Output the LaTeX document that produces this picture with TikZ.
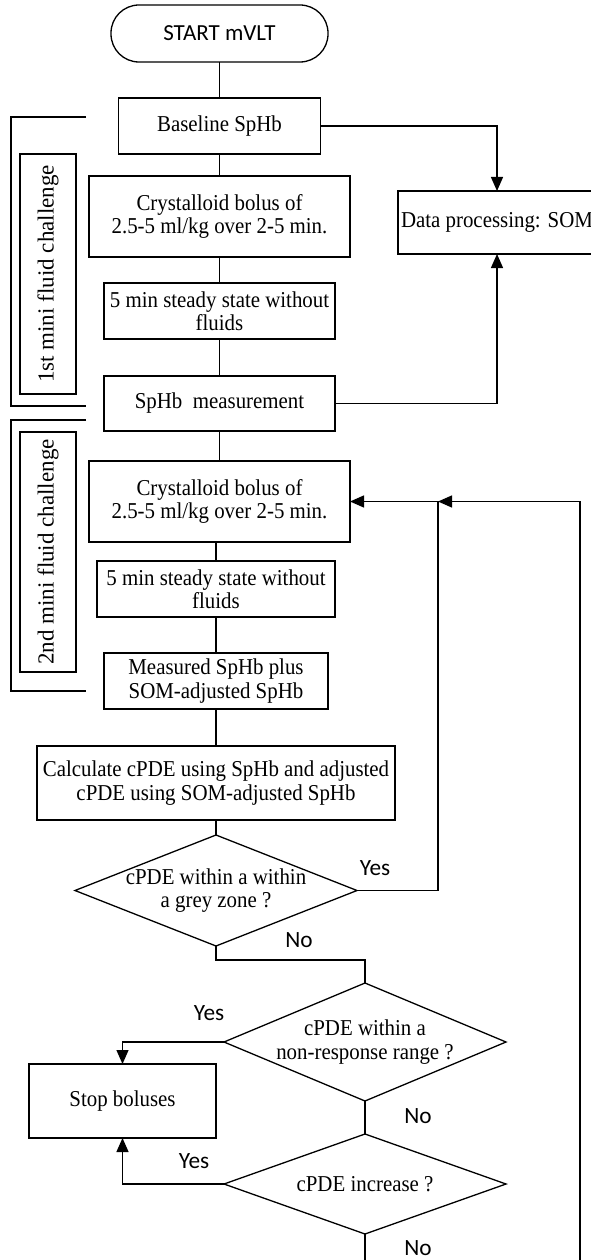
\documentclass[tikz,border=0pt]{standalone}
\usepackage{fontspec}
\setmainfont{Liberation Serif}[FakeStretch=0.92]
\newfontfamily\rotfont{Liberation Serif}
\newfontfamily\calibfont{Carlito}
\usetikzlibrary{arrows.meta,positioning,shapes.geometric}

\begin{document}
\begin{tikzpicture}[
      x=1pt, y=-1pt,
      line width=1.3pt,
      box/.style={draw, minimum height=56pt, inner sep=3pt, outer sep=0pt, align=center,
                  font=\fontsize{22.7pt}{23.5pt}\selectfont},
      decision/.style={draw, diamond, inner sep=-4pt, outer sep=0pt, align=center,
                  minimum width=282pt, font=\fontsize{22.7pt}{23.5pt}\selectfont},
      challenge/.style={draw, rotate=90, minimum width=240pt, minimum height=56pt,
                  font=\rotfont\fontsize{23pt}{26pt}\selectfont},
      answer/.style={font=\calibfont\fontsize{23.3pt}{26pt}\selectfont},
      arr/.style={-{Triangle[length=14pt, width=12pt]}},
    ]
    \clip (0,0) rectangle (591,1260);

    % Main column
    \node[draw, rounded corners=28pt, minimum width=217pt, minimum height=57pt, outer sep=0pt,
          font=\calibfont\fontsize{23pt}{26pt}\selectfont]
                                                  (start)    at (219.5,33.5) {START mVLT};
    \node[box, minimum width=202pt, below=36pt of start]    (baseline) {Baseline SpHb};
    \node[box, minimum width=261pt, minimum height=81pt, below=22pt of baseline]
                                                  (cryst1)   {Crystalloid bolus of\\2.5-5 ml/kg over 2-5 min.};
    \node[box, minimum width=231pt, below=26pt of cryst1]   (steady1)  {5 min steady state without\\fluids};
    \node[box, minimum width=231pt, minimum height=55pt, below=37pt of steady1]
                                                  (meas)     {SpHb\ \ measurement};
    \node[box, minimum width=261pt, minimum height=81pt, below=30pt of meas]
                                                  (cryst2)   {Crystalloid bolus of\\2.5-5 ml/kg over 2-5 min.};
    \node[box, minimum width=238pt, below=19pt of cryst2, xshift=-3.5pt]
                                                  (steady2)  {5 min steady state without\\fluids};
    \node[box, minimum width=224pt, below=36pt of steady2]  (measured) {Measured SpHb plus\\SOM-adjusted SpHb};
    \node[box, minimum width=358pt, minimum height=74pt, below=37pt of measured]
                                                  (calc)     {Calculate cPDE using SpHb and adjusted\\cPDE using SOM-adjusted SpHb};

    % Decisions
    \node[decision, aspect=2.54, minimum height=111pt, below=15pt of calc]
                                                  (d1)       {cPDE within a within\\a grey zone ?};
    \node[decision, aspect=2.39, minimum height=118pt, below=37pt of d1, xshift=149pt]
                                                  (d2)       {cPDE within a\\non-response range ?};
    \node[decision, aspect=2.82, minimum height=100pt, below=33pt of d2]
                                                  (d3)       {cPDE increase ?};
    \node[box, minimum width=187pt, minimum height=74pt] (stop) at (122.5,1101) {Stop boluses};

    % Side box
    \node[box, minimum width=196pt, minimum height=63pt] (data) at (497,222.5) {Data processing: SOM};

    % Challenge brackets
    \draw (86,117) -| (11,406) -- (86,406);
    \node[challenge] (ch1) at (48,274) {1st mini fluid challenge};
    \draw (86,420) -| (11,691) -- (86,691);
    \node[challenge] (ch2) at (48,552) {2nd mini fluid challenge};

    % Return points
    \coordinate[right=88pt of cryst2.east]  (ret1);
    \coordinate[right=230pt of cryst2.east] (ret2);

    % Arrows
    \draw (start) -- (baseline);
    \draw (baseline) -- (cryst1);
    \draw (cryst1) -- (steady1);
    \draw (steady1) -- (meas);
    \draw (meas) -- (cryst2);
    \draw (cryst2.south -| steady2.north) -- (steady2.north);
    \draw (steady2) -- (measured);
    \draw (measured) -- (calc);
    \draw (calc) -- (d1);
    \draw[arr] (baseline) -| (data);
    \draw[arr] (meas) -| (data);
    \draw[arr] (d1.east) -| (ret1) -- (cryst2.east);
    \draw (d1.south) -- ++(0,14) -| (d2.north);
    \draw[arr] (d2.west) -| (stop.north);
    \draw (d2) -- (d3);
    \draw[arr] (d3.west) -| (stop.south);
    \draw[arr] (d3.south) -- ++(0,45) -| (ret2) -- (ret1);

    % Labels
    \node[answer] (yes1) at (375,868)  {Yes};
    \node[answer] (no1)  at (299,940)  {No};
    \node[answer] (yes2) at (209,1013) {Yes};
    \node[answer] (no2)  at (418,1116) {No};
    \node[answer] (yes3) at (194,1161) {Yes};
    \node[answer] (no3)  at (418,1248) {No};
  \end{tikzpicture}
\end{document}
